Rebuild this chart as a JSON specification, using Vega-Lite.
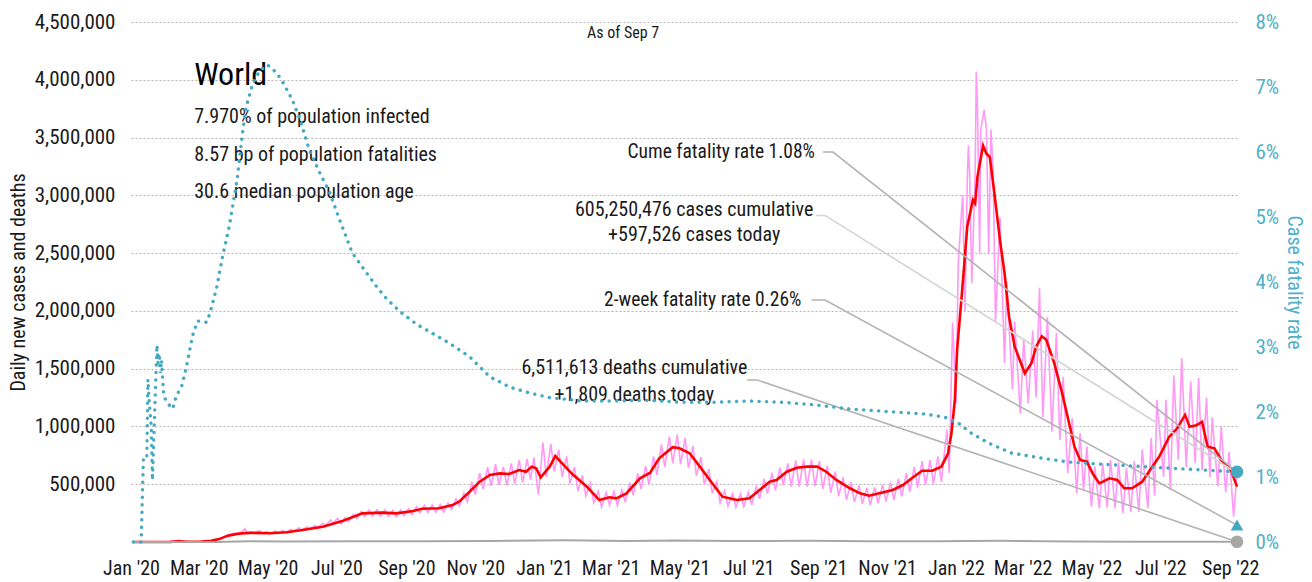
{
"$schema": "https://vega.github.io/schema/vega-lite/v6.json",
"width": 1106, "height": 520,
"autosize": "none",
"padding": {"left": 131, "top": 22, "right": 75, "bottom": 40},
"background": "white",
"config": {"view": {"stroke": null}, "font": "Roboto Condensed", "text": {"font": "Roboto Condensed"}, "axis": {"labelFont": "Roboto Condensed", "titleFont": "Roboto Condensed"}},
"datasets": {
"pink": [
{"d":"2020-01-03","v":0},{"d":"2020-01-25","v":1000},{"d":"2020-02-05","v":3500},{"d":"2020-02-13","v":15000},{"d":"2020-02-16","v":2500},{"d":"2020-02-25","v":1000},{"d":"2020-03-05","v":2500},{"d":"2020-03-12","v":8000},{"d":"2020-03-19","v":25000},{"d":"2020-03-26","v":60000},{"d":"2020-04-01","v":75000},{"d":"2020-04-05","v":70000},{"d":"2020-04-09","v":95000},{"d":"2020-04-11","v":115000},{"d":"2020-04-13","v":72000},{"d":"2020-04-17","v":88000},{"d":"2020-04-19","v":75000},{"d":"2020-04-24","v":98000},{"d":"2020-04-26","v":76000},{"d":"2020-05-01","v":90000},{"d":"2020-05-03","v":72000},{"d":"2020-05-08","v":95000},{"d":"2020-05-10","v":78000},{"d":"2020-05-15","v":100000},{"d":"2020-05-17","v":82000},{"d":"2020-05-22","v":108000},{"d":"2020-05-24","v":92000},{"d":"2020-05-29","v":122000},{"d":"2020-05-31","v":100000},{"d":"2020-06-05","v":132000},{"d":"2020-06-07","v":112000},{"d":"2020-06-12","v":142000},{"d":"2020-06-14","v":122000},{"d":"2020-06-19","v":162000},{"d":"2020-06-21","v":138000},{"d":"2020-06-26","v":190000},{"d":"2020-06-28","v":160000},{"d":"2020-07-02","v":205000},
{"d":"2020-07-05","v":158000},{"d":"2020-07-09","v":211000},{"d":"2020-07-12","v":180000},{"d":"2020-07-16","v":240000},{"d":"2020-07-19","v":202000},{"d":"2020-07-23","v":264000},{"d":"2020-07-26","v":220000},{"d":"2020-07-30","v":277000},{"d":"2020-08-02","v":224000},{"d":"2020-08-06","v":280000},{"d":"2020-08-09","v":224000},{"d":"2020-08-13","v":279000},{"d":"2020-08-16","v":222000},{"d":"2020-08-20","v":275000},{"d":"2020-08-23","v":218000},{"d":"2020-08-27","v":278000},{"d":"2020-08-30","v":227000},{"d":"2020-09-03","v":289000},{"d":"2020-09-06","v":236000},{"d":"2020-09-10","v":305000},{"d":"2020-09-13","v":251000},{"d":"2020-09-17","v":317000},{"d":"2020-09-20","v":255000},{"d":"2020-09-24","v":320000},{"d":"2020-09-27","v":257000},{"d":"2020-10-01","v":322000},{"d":"2020-10-04","v":259000},{"d":"2020-10-08","v":336000},{"d":"2020-10-11","v":282000},{"d":"2020-10-15","v":372000},{"d":"2020-10-18","v":312000},{"d":"2020-10-22","v":424000},{"d":"2020-10-25","v":349000},{"d":"2020-10-29","v":519000},{"d":"2020-11-01","v":411000},{"d":"2020-11-05","v":595000},{"d":"2020-11-08","v":457000},{"d":"2020-11-12","v":648000},{"d":"2020-11-15","v":483000},{"d":"2020-11-19","v":673000},{"d":"2020-11-22","v":493000},{"d":"2020-11-26","v":650000},{"d":"2020-11-29","v":488000},{"d":"2020-12-03","v":681000},{"d":"2020-12-06","v":502000},{"d":"2020-12-10","v":710000},{"d":"2020-12-13","v":515000},{"d":"2020-12-17","v":718000},{"d":"2020-12-20","v":540000},{"d":"2020-12-23","v":730000},{"d":"2020-12-27","v":410000},{"d":"2020-12-31","v":860000},
{"d":"2021-01-03","v":565000},{"d":"2021-01-07","v":850000},{"d":"2021-01-10","v":610000},{"d":"2021-01-14","v":800000},{"d":"2021-01-17","v":565000},{"d":"2021-01-21","v":741000},{"d":"2021-01-24","v":506000},{"d":"2021-01-28","v":650000},{"d":"2021-01-31","v":440000},{"d":"2021-02-04","v":576000},{"d":"2021-02-07","v":398000},{"d":"2021-02-11","v":507000},{"d":"2021-02-14","v":340000},{"d":"2021-02-18","v":439000},{"d":"2021-02-21","v":303000},{"d":"2021-02-25","v":428000},{"d":"2021-02-28","v":320000},{"d":"2021-03-04","v":437000},{"d":"2021-03-07","v":315000},{"d":"2021-03-11","v":450000},{"d":"2021-03-14","v":344000},{"d":"2021-03-18","v":513000},{"d":"2021-03-21","v":407000},{"d":"2021-03-25","v":593000},{"d":"2021-03-28","v":461000},{"d":"2021-04-01","v":656000},{"d":"2021-04-04","v":496000},{"d":"2021-04-08","v":741000},{"d":"2021-04-11","v":581000},{"d":"2021-04-15","v":844000},{"d":"2021-04-18","v":647000},{"d":"2021-04-22","v":912000},{"d":"2021-04-25","v":681000},{"d":"2021-04-29","v":929000},{"d":"2021-05-02","v":671000},{"d":"2021-05-06","v":901000},{"d":"2021-05-09","v":639000},{"d":"2021-05-13","v":832000},{"d":"2021-05-16","v":573000},{"d":"2021-05-20","v":735000},{"d":"2021-05-23","v":498000},{"d":"2021-05-27","v":633000},{"d":"2021-05-30","v":422000},{"d":"2021-06-03","v":524000},{"d":"2021-06-06","v":340000},{"d":"2021-06-10","v":445000},{"d":"2021-06-13","v":311000},{"d":"2021-06-17","v":420000},{"d":"2021-06-20","v":301000},{"d":"2021-06-24","v":416000},{"d":"2021-06-27","v":307000},{"d":"2021-07-01","v":431000},{"d":"2021-07-04","v":320000},{"d":"2021-07-08","v":479000},{"d":"2021-07-11","v":374000},{"d":"2021-07-15","v":547000},{"d":"2021-07-18","v":419000},{"d":"2021-07-22","v":599000},{"d":"2021-07-25","v":446000},{"d":"2021-07-29","v":644000},{"d":"2021-08-01","v":490000},{"d":"2021-08-05","v":680000},{"d":"2021-08-08","v":480000},{"d":"2021-08-12","v":705000},{"d":"2021-08-15","v":480000},{"d":"2021-08-19","v":712000},{"d":"2021-08-22","v":480000},{"d":"2021-08-26","v":712000},{"d":"2021-08-29","v":482000},{"d":"2021-09-02","v":700000},{"d":"2021-09-05","v":460000},{"d":"2021-09-09","v":660000},{"d":"2021-09-12","v":425000},{"d":"2021-09-16","v":610000},{"d":"2021-09-19","v":395000},{"d":"2021-09-23","v":560000},{"d":"2021-09-26","v":365000},{"d":"2021-09-30","v":520000},{"d":"2021-10-03","v":345000},{"d":"2021-10-07","v":490000},{"d":"2021-10-10","v":330000},{"d":"2021-10-14","v":470000},{"d":"2021-10-17","v":320000},{"d":"2021-10-21","v":472000},{"d":"2021-10-24","v":335000},{"d":"2021-10-28","v":495000},{"d":"2021-10-31","v":350000},{"d":"2021-11-04","v":515000},{"d":"2021-11-07","v":365000},{"d":"2021-11-11","v":545000},{"d":"2021-11-14","v":395000},{"d":"2021-11-18","v":595000},{"d":"2021-11-21","v":435000},{"d":"2021-11-25","v":650000},{"d":"2021-11-28","v":470000},{"d":"2021-12-02","v":700000},{"d":"2021-12-05","v":495000},{"d":"2021-12-09","v":710000},{"d":"2021-12-12","v":500000},{"d":"2021-12-16","v":740000},{"d":"2021-12-19","v":520000},{"d":"2021-12-24","v":970000},{"d":"2021-12-26","v":597000},{"d":"2021-12-29","v":1900000},
{"d":"2022-01-01","v":1200000},{"d":"2022-01-03","v":2410000},{"d":"2022-01-06","v":2870000},{"d":"2022-01-07","v":3000000},{"d":"2022-01-09","v":2000000},{"d":"2022-01-11","v":3130000},{"d":"2022-01-12","v":3430000},{"d":"2022-01-13","v":3220000},{"d":"2022-01-15","v":2240000},{"d":"2022-01-18","v":3200000},{"d":"2022-01-19","v":4070000},{"d":"2022-01-20","v":3780000},{"d":"2022-01-22","v":2500000},{"d":"2022-01-23","v":3570000},{"d":"2022-01-26","v":3740000},{"d":"2022-01-28","v":3570000},{"d":"2022-01-30","v":2500000},{"d":"2022-02-01","v":3570000},{"d":"2022-02-03","v":3200000},{"d":"2022-02-05","v":1900000},{"d":"2022-02-09","v":2810000},{"d":"2022-02-13","v":1550000},{"d":"2022-02-15","v":2250000},{"d":"2022-02-20","v":1320000},{"d":"2022-02-22","v":1910000},{"d":"2022-02-27","v":1110000},{"d":"2022-03-02","v":1750000},{"d":"2022-03-06","v":1200000},{"d":"2022-03-10","v":1830000},{"d":"2022-03-13","v":1250000},{"d":"2022-03-16","v":2200000},{"d":"2022-03-19","v":1080000},{"d":"2022-03-23","v":1950000},{"d":"2022-03-27","v":955000},{"d":"2022-03-31","v":1810000},{"d":"2022-04-03","v":883000},{"d":"2022-04-06","v":1430000},{"d":"2022-04-10","v":595000},{"d":"2022-04-14","v":1070000},{"d":"2022-04-18","v":421000},{"d":"2022-04-21","v":943000},{"d":"2022-04-24","v":450000},{"d":"2022-04-27","v":825000},{"d":"2022-05-01","v":305000},{"d":"2022-05-04","v":652000},{"d":"2022-05-08","v":292000},{"d":"2022-05-11","v":680000},{"d":"2022-05-15","v":300000},{"d":"2022-05-18","v":710000},{"d":"2022-05-22","v":290000},{"d":"2022-05-25","v":690000},{"d":"2022-05-29","v":250000},{"d":"2022-06-01","v":640000},{"d":"2022-06-05","v":260000},{"d":"2022-06-08","v":700000},{"d":"2022-06-12","v":260000},{"d":"2022-06-15","v":800000},{"d":"2022-06-20","v":292000},{"d":"2022-06-23","v":900000},{"d":"2022-06-26","v":400000},{"d":"2022-06-28","v":1230000},{"d":"2022-07-04","v":565000},{"d":"2022-07-06","v":1230000},{"d":"2022-07-10","v":450000},{"d":"2022-07-13","v":1440000},{"d":"2022-07-17","v":710000},{"d":"2022-07-20","v":1590000},{"d":"2022-07-24","v":650000},{"d":"2022-07-28","v":1390000},{"d":"2022-08-01","v":681000},{"d":"2022-08-04","v":1420000},{"d":"2022-08-07","v":620000},{"d":"2022-08-11","v":1250000},{"d":"2022-08-14","v":560000},{"d":"2022-08-16","v":1080000},{"d":"2022-08-21","v":480000},{"d":"2022-08-24","v":1000000},{"d":"2022-08-28","v":430000},{"d":"2022-08-31","v":781000},{"d":"2022-09-04","v":219000},{"d":"2022-09-07","v":597526}
],
"red": [
{"d":"2020-01-03","v":0},{"d":"2020-02-05","v":1500},{"d":"2020-02-13","v":6000},{"d":"2020-02-20","v":2000},{"d":"2020-03-01","v":2000},{"d":"2020-03-12","v":10000},{"d":"2020-03-19","v":25000},{"d":"2020-03-27","v":55000},{"d":"2020-04-04","v":70000},{"d":"2020-04-15","v":80000},{"d":"2020-05-03","v":76000},{"d":"2020-05-18","v":85000},{"d":"2020-06-01","v":104000},{"d":"2020-06-19","v":132000},{"d":"2020-07-07","v":184000},{"d":"2020-07-24","v":248000},{"d":"2020-08-11","v":254000},{"d":"2020-08-23","v":248000},{"d":"2020-09-07","v":268000},{"d":"2020-09-15","v":288000},{"d":"2020-09-30","v":292000},{"d":"2020-10-12","v":320000},{"d":"2020-10-18","v":352000},{"d":"2020-10-27","v":435000},{"d":"2020-11-05","v":522000},{"d":"2020-11-14","v":580000},{"d":"2020-11-23","v":594000},{"d":"2020-12-01","v":588000},{"d":"2020-12-10","v":623000},{"d":"2020-12-16","v":608000},{"d":"2020-12-21","v":652000},{"d":"2020-12-25","v":638000},{"d":"2020-12-29","v":560000},{"d":"2021-01-06","v":652000},{"d":"2021-01-11","v":744000},{"d":"2021-01-17","v":681000},{"d":"2021-01-26","v":588000},{"d":"2021-02-08","v":478000},{"d":"2021-02-19","v":363000},{"d":"2021-02-28","v":387000},{"d":"2021-03-06","v":378000},{"d":"2021-03-15","v":421000},{"d":"2021-03-27","v":551000},{"d":"2021-04-05","v":600000},{"d":"2021-04-13","v":724000},{"d":"2021-04-25","v":820000},{"d":"2021-05-01","v":811000},{"d":"2021-05-10","v":768000},{"d":"2021-05-19","v":652000},{"d":"2021-05-30","v":508000},{"d":"2021-06-08","v":392000},{"d":"2021-06-21","v":363000},{"d":"2021-07-02","v":378000},{"d":"2021-07-11","v":450000},{"d":"2021-07-20","v":522000},{"d":"2021-07-26","v":537000},{"d":"2021-08-04","v":608000},{"d":"2021-08-13","v":643000},{"d":"2021-08-22","v":652000},{"d":"2021-08-31","v":652000},{"d":"2021-09-08","v":608000},{"d":"2021-09-17","v":537000},{"d":"2021-09-29","v":465000},{"d":"2021-10-08","v":421000},{"d":"2021-10-16","v":401000},{"d":"2021-10-25","v":421000},{"d":"2021-11-06","v":450000},{"d":"2021-11-15","v":493000},{"d":"2021-11-24","v":560000},{"d":"2021-12-02","v":617000},{"d":"2021-12-11","v":617000},{"d":"2021-12-19","v":652000},{"d":"2021-12-25","v":768000},{"d":"2021-12-28","v":941000},{"d":"2021-12-31","v":1230000},{"d":"2022-01-02","v":1660000},{"d":"2022-01-07","v":2240000},{"d":"2022-01-11","v":2730000},{"d":"2022-01-16","v":2960000},{"d":"2022-01-18","v":2930000},{"d":"2022-01-20","v":3160000},{"d":"2022-01-25","v":3430000},{"d":"2022-01-28","v":3360000},{"d":"2022-01-31","v":3330000},{"d":"2022-02-04","v":3020000},{"d":"2022-02-09","v":2610000},{"d":"2022-02-13","v":2330000},{"d":"2022-02-17","v":1950000},{"d":"2022-02-22","v":1690000},{"d":"2022-03-03","v":1460000},{"d":"2022-03-09","v":1550000},{"d":"2022-03-13","v":1690000},{"d":"2022-03-18","v":1780000},{"d":"2022-03-22","v":1750000},{"d":"2022-03-29","v":1550000},{"d":"2022-04-05","v":1290000},{"d":"2022-04-10","v":1080000},{"d":"2022-04-16","v":825000},{"d":"2022-04-21","v":710000},{"d":"2022-04-27","v":695000},{"d":"2022-05-02","v":594000},{"d":"2022-05-08","v":508000},{"d":"2022-05-17","v":551000},{"d":"2022-05-24","v":537000},{"d":"2022-05-30","v":465000},{"d":"2022-06-06","v":465000},{"d":"2022-06-15","v":522000},{"d":"2022-06-23","v":638000},{"d":"2022-06-30","v":738000},{"d":"2022-07-09","v":911000},{"d":"2022-07-16","v":984000},{"d":"2022-07-23","v":1100000},{"d":"2022-07-27","v":998000},{"d":"2022-08-02","v":1010000},{"d":"2022-08-07","v":1040000},{"d":"2022-08-12","v":825000},{"d":"2022-08-18","v":811000},{"d":"2022-08-25","v":695000},{"d":"2022-09-01","v":638000},{"d":"2022-09-07","v":479000}
],
"deaths": [
{"d":"2020-01-03","v":0},{"d":"2020-03-15","v":1000},{"d":"2020-04-15","v":7000},{"d":"2020-05-15","v":5000},{"d":"2020-07-15","v":5500},{"d":"2020-09-15","v":5500},{"d":"2020-11-15","v":9000},{"d":"2021-01-20","v":15000},{"d":"2021-03-15","v":9000},{"d":"2021-04-28","v":14000},{"d":"2021-06-15","v":9000},{"d":"2021-08-25","v":10000},{"d":"2021-10-15","v":7000},{"d":"2021-12-15","v":7000},{"d":"2022-02-10","v":11000},{"d":"2022-04-15","v":3500},{"d":"2022-06-15","v":1500},{"d":"2022-08-15","v":2200},{"d":"2022-09-07","v":1809}
],
"cfr": [
{"d":"2020-01-03","r":0},{"d":"2020-01-10","r":0},{"d":"2020-01-12","r":1.3},{"d":"2020-01-15","r":1.3},{"d":"2020-01-16","r":2.5},{"d":"2020-01-17","r":2.2},{"d":"2020-01-19","r":1.75},{"d":"2020-01-20","r":0.95},{"d":"2020-01-22","r":2.0},{"d":"2020-01-24","r":3.03},{"d":"2020-01-25","r":2.75},{"d":"2020-01-26","r":2.9},{"d":"2020-01-27","r":2.6},{"d":"2020-01-28","r":2.8},{"d":"2020-01-30","r":2.25},{"d":"2020-02-02","r":2.14},{"d":"2020-02-07","r":2.05},{"d":"2020-02-10","r":2.24},{"d":"2020-02-15","r":2.4},{"d":"2020-02-19","r":2.68},{"d":"2020-02-22","r":2.95},{"d":"2020-02-25","r":3.2},{"d":"2020-02-29","r":3.4},{"d":"2020-03-08","r":3.38},{"d":"2020-03-11","r":3.52},{"d":"2020-03-17","r":3.92},{"d":"2020-03-22","r":4.38},{"d":"2020-03-28","r":4.85},{"d":"2020-04-04","r":5.57},{"d":"2020-04-08","r":6.18},{"d":"2020-04-12","r":6.69},{"d":"2020-04-18","r":7.06},{"d":"2020-04-24","r":7.25},{"d":"2020-05-01","r":7.34},{"d":"2020-05-09","r":7.22},{"d":"2020-05-15","r":7.06},{"d":"2020-05-23","r":6.8},{"d":"2020-05-30","r":6.49},{"d":"2020-06-07","r":6.03},{"d":"2020-06-16","r":5.69},{"d":"2020-06-25","r":5.38},{"d":"2020-07-04","r":4.95},{"d":"2020-07-15","r":4.45},{"d":"2020-07-26","r":4.18},{"d":"2020-08-06","r":3.92},{"d":"2020-08-14","r":3.75},{"d":"2020-08-26","r":3.55},{"d":"2020-09-10","r":3.35},{"d":"2020-09-25","r":3.2},{"d":"2020-10-09","r":3.06},{"d":"2020-10-27","r":2.85},{"d":"2020-11-14","r":2.54},{"d":"2020-12-02","r":2.38},{"d":"2020-12-20","r":2.29},{"d":"2021-01-06","r":2.22},{"d":"2021-02-04","r":2.17},{"d":"2021-03-06","r":2.17},{"d":"2021-04-04","r":2.18},{"d":"2021-05-03","r":2.15},{"d":"2021-06-02","r":2.15},{"d":"2021-07-01","r":2.17},{"d":"2021-07-31","r":2.15},{"d":"2021-08-29","r":2.11},{"d":"2021-09-27","r":2.05},{"d":"2021-11-08","r":2.0},{"d":"2021-12-04","r":1.97},{"d":"2021-12-22","r":1.92},{"d":"2022-01-03","r":1.83},{"d":"2022-01-14","r":1.68},{"d":"2022-01-30","r":1.52},{"d":"2022-02-19","r":1.37},{"d":"2022-03-18","r":1.29},{"d":"2022-04-11","r":1.23},{"d":"2022-05-08","r":1.2},{"d":"2022-06-06","r":1.17},{"d":"2022-07-06","r":1.14},{"d":"2022-08-05","r":1.11},{"d":"2022-09-07","r":1.08}
],
"leaders": [
{"g":"cume","o":1,"d":"2021-09-05","v":3375000},{"g":"cume","o":2,"d":"2021-09-14","v":3375000},{"g":"cume","o":3,"d":"2022-09-07","v":607500},
{"g":"twoweek","o":1,"d":"2021-08-26","v":2094000},{"g":"twoweek","o":2,"d":"2021-09-07","v":2094000},{"g":"twoweek","o":3,"d":"2022-09-07","v":146250},
{"g":"deaths","o":1,"d":"2021-06-30","v":1402000},{"g":"deaths","o":2,"d":"2021-07-09","v":1402000},{"g":"deaths","o":3,"d":"2022-09-07","v":1809}
],
"leaderCases": [
{"g":"cases","o":1,"d":"2021-08-30","v":2826000},{"g":"cases","o":2,"d":"2021-09-07","v":2826000},{"g":"cases","o":3,"d":"2022-09-07","v":597526}
],
"deathEnd": [{"d":"2022-09-07","v":1809}],
"cumeEnd": [{"d":"2022-09-07","r":1.08}],
"twoWeekEnd": [{"d":"2022-09-07","r":0.26}],
"notesRight": [
{"t":"Cume fatality rate 1.08%","d":"2021-08-29","v":3375000},
{"t":"2-week fatality rate 0.26%","d":"2021-08-17","v":2094000}
],
"notesCenter": [
{"t":"605,250,476 cases cumulative","d":"2021-05-14","v":2873000},
{"t":"+597,526 cases today","d":"2021-05-14","v":2657000},
{"t":"6,511,613 deaths cumulative","d":"2021-03-22","v":1506000},
{"t":"+1,809 deaths today","d":"2021-03-22","v":1272000}
],
"notesLeft": [
{"t":"7.970% of population infected","d":"2020-02-26","v":3678000},
{"t":"8.57 bp of population fatalities","d":"2020-02-26","v":3349000},
{"t":"30.6 median population age","d":"2020-02-26","v":3029000}
],
"title": [{"t":"World","d":"2020-02-26","v":4041000}],
"asof": [{"t":"As of Sep 7","d":"2021-03-12","v":4405000}]
},
"encoding": {
"x": {"field": "d", "type": "temporal",
 "scale": {"domain": [{"year":2020,"month":1,"date":1},{"year":2022,"month":9,"date":7}]},
 "axis": {"title": null, "format": "%b '%y", "grid": false, "domain": false, "ticks": false,
  "values": [{"year":2020,"month":1,"date":1},{"year":2020,"month":3,"date":1},{"year":2020,"month":5,"date":1},{"year":2020,"month":7,"date":1},{"year":2020,"month":9,"date":1},{"year":2020,"month":11,"date":1},{"year":2021,"month":1,"date":1},{"year":2021,"month":3,"date":1},{"year":2021,"month":5,"date":1},{"year":2021,"month":7,"date":1},{"year":2021,"month":9,"date":1},{"year":2021,"month":11,"date":1},{"year":2022,"month":1,"date":1},{"year":2022,"month":3,"date":1},{"year":2022,"month":5,"date":1},{"year":2022,"month":7,"date":1},{"year":2022,"month":9,"date":1}],
  "labelFontSize": 20, "labelColor": "#1a1a1a", "labelPadding": 16, "labelOverlap": false, "labelFlush": false}}
},
"layer": [
{
 "encoding": {
  "y": {"field": "v", "type": "quantitative",
   "scale": {"domain": [0, 4500000], "nice": false},
   "axis": {"orient": "left", "values": [500000,1000000,1500000,2000000,2500000,3000000,3500000,4000000,4500000], "format": ",d",
    "grid": true, "gridDash": [2, 2], "gridColor": "#b5b5b5", "gridWidth": 1.2, "domain": false, "ticks": false,
    "labelFontSize": 21, "labelColor": "#1a1a1a", "labelPadding": 16,
    "title": "Daily new cases and deaths", "titleFontSize": 20, "titleFontWeight": "normal", "titleColor": "#1a1a1a",
    "titleAngle": 270, "titleX": -113, "titleY": 260, "titleAlign": "center", "titleBaseline": "middle"}}
 },
 "layer": [
  {"data": {"name": "pink"}, "mark": {"type": "line", "color": "#ff99f5", "strokeWidth": 1.6}},
  {"data": {"name": "red"}, "mark": {"type": "line", "color": "#ff0000", "strokeWidth": 2.6}},
  {"data": {"name": "deaths"}, "mark": {"type": "line", "color": "#a6a6a6", "strokeWidth": 2}},
  {"data": {"name": "leaders"}, "mark": {"type": "line", "color": "#b3b3b3", "strokeWidth": 1.6},
   "encoding": {"detail": {"field": "g"}, "order": {"field": "o"}}},
  {"data": {"name": "leaderCases"}, "mark": {"type": "line", "color": "#d4d4d4", "strokeWidth": 1.6},
   "encoding": {"order": {"field": "o"}}},
  {"data": {"name": "deathEnd"}, "mark": {"type": "point", "shape": "circle", "filled": true, "color": "#a6a6a6", "size": 160, "opacity": 1}},
  {"data": {"name": "notesRight"}, "mark": {"type": "text", "align": "right", "baseline": "middle", "fontSize": 19.5, "color": "#1a1a1a"},
   "encoding": {"text": {"field": "t"}}},
  {"data": {"name": "notesCenter"}, "mark": {"type": "text", "align": "center", "baseline": "middle", "fontSize": 20, "color": "#1a1a1a"},
   "encoding": {"text": {"field": "t"}}},
  {"data": {"name": "notesLeft"}, "mark": {"type": "text", "align": "left", "baseline": "middle", "fontSize": 20, "color": "#1a1a1a"},
   "encoding": {"text": {"field": "t"}}},
  {"data": {"name": "title"}, "mark": {"type": "text", "align": "left", "baseline": "middle", "fontSize": 32, "color": "#000000"},
   "encoding": {"text": {"field": "t"}}},
  {"data": {"name": "asof"}, "mark": {"type": "text", "align": "center", "baseline": "middle", "fontSize": 16, "color": "#1a1a1a"},
   "encoding": {"text": {"field": "t"}}}
 ]
},
{
 "encoding": {
  "y": {"field": "r", "type": "quantitative",
   "scale": {"domain": [0, 8], "nice": false},
   "axis": {"orient": "right", "values": [0,1,2,3,4,5,6,7,8], "labelExpr": "datum.value + '%'",
    "grid": false, "domain": false, "ticks": false,
    "labelFontSize": 21, "labelColor": "#4fb0c8", "labelPadding": 18,
    "title": "Case fatality rate", "titleFontSize": 20, "titleFontWeight": "normal", "titleColor": "#4fb0c8",
    "titleAngle": 90, "titleX": 56, "titleY": 260, "titleAlign": "center", "titleBaseline": "middle"}}
 },
 "layer": [
  {"data": {"name": "cfr"}, "mark": {"type": "line", "color": "#45a9c2", "strokeWidth": 3.4, "strokeDash": [0.1, 7.4], "strokeCap": "round"}},
  {"data": {"name": "cumeEnd"}, "mark": {"type": "point", "shape": "circle", "filled": true, "color": "#45a9c2", "size": 160, "opacity": 1}},
  {"data": {"name": "twoWeekEnd"}, "mark": {"type": "point", "shape": "triangle-up", "filled": true, "color": "#45a9c2", "size": 160, "opacity": 1}}
 ]
}
],
"resolve": {"scale": {"y": "independent"}, "axis": {"y": "independent"}}
}
